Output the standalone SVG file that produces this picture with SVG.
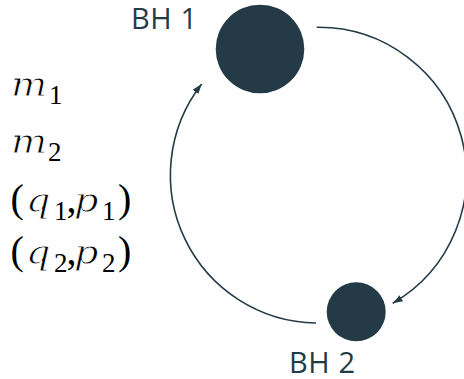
<svg xmlns="http://www.w3.org/2000/svg" width="464" height="379" viewBox="0 0 464 379">
<style>
.bh{fill:#243A46}
.lbl{font-family:'Open Sans','Liberation Sans',sans-serif;font-size:29px;fill:#243A46;letter-spacing:0.6px}
.conn{fill:none;stroke:#243A46;stroke-width:1.6}
.it{font-family:'DejaVu Serif',serif;font-style:italic;font-size:34px;fill:#000;stroke:#fff;stroke-width:0.8}
.rm{font-family:'Liberation Serif','DejaVu Serif',serif;font-size:40px;fill:#000}
.sub{font-family:'Liberation Serif','DejaVu Serif',serif;font-size:27px;fill:#000}
</style>
<defs>
<marker id="arr" markerUnits="userSpaceOnUse" markerWidth="12" markerHeight="9" refX="10" refY="3.5" orient="auto">
<path d="M0,0 L10,3.5 L0,7 z" fill="#243A46"/>
</marker>
</defs>
<rect width="464" height="379" fill="#fff"/>
<g id="connectors">
<path class="conn" d="M316.7,27.3 A148,148 0 0 1 392.7,303.3" marker-end="url(#arr)"/>
<path class="conn" d="M316,323 A148,148 0 0 1 201.7,84" marker-end="url(#arr)"/>
</g>
<g id="bh1">
<circle class="bh" cx="260" cy="49" r="44.3"/>
<text class="lbl" x="131" y="28.5">BH 1</text>
</g>
<g id="bh2">
<circle class="bh" cx="356.2" cy="311.8" r="29.5"/>
<text class="lbl" x="289" y="373">BH 2</text>
</g>
<g id="vars">
<g id="m1">
<text class="it" transform="translate(11,96) scale(1.12,1)">m</text>
<text class="sub" x="49" y="104">1</text>
</g>
<g id="m2">
<text class="it" transform="translate(11,153.3) scale(1.12,1)">m</text>
<text class="sub" x="48" y="161">2</text>
</g>
<g id="qp1">
<text class="rm" x="10.5" y="211.5">(</text>
<text class="it" transform="translate(26,211.5) scale(1.12,1)">q</text>
<text class="sub" x="54" y="219.5">1</text>
<text class="rm" x="66.5" y="211.5">,</text>
<text class="it" transform="translate(74,211.5) scale(1.12,1)">p</text>
<text class="sub" x="102" y="219.5">1</text>
<text class="rm" x="118" y="211.5">)</text>
</g>
<g id="qp2">
<text class="rm" x="10.5" y="263.5">(</text>
<text class="it" transform="translate(26,263.5) scale(1.12,1)">q</text>
<text class="sub" x="54" y="271.5">2</text>
<text class="rm" x="66.5" y="263.5">,</text>
<text class="it" transform="translate(74,263.5) scale(1.12,1)">p</text>
<text class="sub" x="102" y="271.5">2</text>
<text class="rm" x="118" y="263.5">)</text>
</g>
</g>
</svg>
